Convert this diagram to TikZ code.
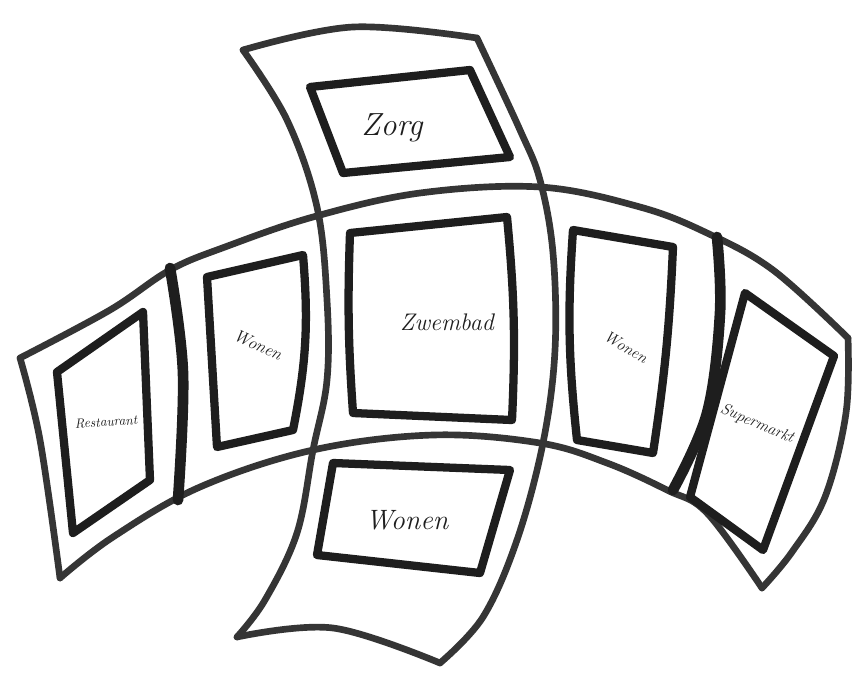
\documentclass[tikz,border=0pt]{standalone}
\usepackage{fontspec}
\definecolor{ink}{HTML}{1E1E1E}
\begin{document}
\begin{tikzpicture}[x=0.75pt,y=-0.75pt,
  band/.style={draw=ink!90, line width=5pt, line join=round, line cap=round},
  boxline/.style={draw=ink, line width=6.2pt, line join=round, line cap=round},
  divider/.style={draw=ink, line width=8pt, line cap=round},
  lbl/.style={text=ink, inner sep=0pt, font=\itshape}]
\useasboundingbox (0,0) rectangle (853,679);
\fill[white] (0,0) rectangle (853,679);
% horizontal curved band
\draw[band] plot[smooth, tension=0.6] coordinates {(20,358) (110,310) (170,270) (225,247) (313,217) (420,193) (540,187) (640,207) (707,233) (773,270) (848,338)};
\draw[band] plot[smooth, tension=0.6] coordinates {(848,338) (846,413) (825,497) (792,552) (762,588)};
\draw[band] plot[smooth, tension=0.6] coordinates {(762,588) (707,513) (667,490) (607,463) (540,443) (433,435) (313,450) (200,487) (113,537) (60,578)};
\draw[band] plot[smooth, tension=0.6] coordinates {(60,578) (40,440) (20,358)};
% dividers in the horizontal band
\draw[divider] plot[smooth, tension=0.6] coordinates {(170,268) (183,373) (178,500)};
\draw[divider] plot[smooth, tension=0.6] coordinates {(717,237) (720,313) (707,413) (673,490)};
% vertical band
\draw[band] plot[smooth, tension=0.6] coordinates {(243,50) (353,27) (477,38)};
\draw[band] plot[smooth, tension=0.6] coordinates {(477,38) (520,130) (540,180) (553,253) (555,350) (543,443) (517,540) (483,617) (440,663)};
\draw[band] plot[smooth, tension=0.6] coordinates {(440,663) (333,628) (237,637)};
\draw[band] plot[smooth, tension=0.6] coordinates {(243,50) (287,120) (317,207) (327,300) (327,380) (313,450) (297,533) (265,600) (237,637)};
% boxes
\draw[boxline] (57,372) -- (143,312) -- (150,480) -- (73,533) -- cycle;
\draw[boxline] (207,277) -- (303,255) to[bend left=8] (293,430) -- (217,447) -- cycle;
\draw[boxline] (350,233) -- (507,217) to[bend left=4] (512,420) -- (353,413) to[bend left=3] cycle;
\draw[boxline] (573,230) -- (673,247) to[bend left=3] (653,453) -- (577,440) to[bend left=5] cycle;
\draw[boxline] (310,87) -- (470,70) -- (510,157) -- (343,173) -- cycle;
\draw[boxline] (333,463) -- (510,470) -- (480,573) -- (317,555) -- cycle;
\draw[boxline] (745,293) -- (834,356) -- (763,550) -- (690,497) -- cycle;
% labels
\node[lbl, font=\itshape\fontsize{24}{28}\selectfont] (zorg) at (392,128) {Zorg};
\node[lbl, font=\itshape\fontsize{18}{22}\selectfont] (zwembad) at (447,322) {Zwembad};
\node[lbl, font=\itshape\fontsize{21}{25}\selectfont] (wonenb) at (407,520) {Wonen};
\node[lbl, font=\itshape\fontsize{13}{16}\selectfont, rotate=-25] (wonenl) at (258,345) {Wonen};
\node[lbl, font=\itshape\fontsize{12}{15}\selectfont, rotate=-30] (wonenr) at (626,347) {Wonen};
\node[lbl, font=\itshape\fontsize{12}{15}\selectfont, rotate=-23] (super) at (757,424) {Supermarkt};
\node[lbl, font=\itshape\fontsize{10}{12}\selectfont, rotate=4] (rest) at (106,422) {Restaurant};
\end{tikzpicture}
\end{document}
